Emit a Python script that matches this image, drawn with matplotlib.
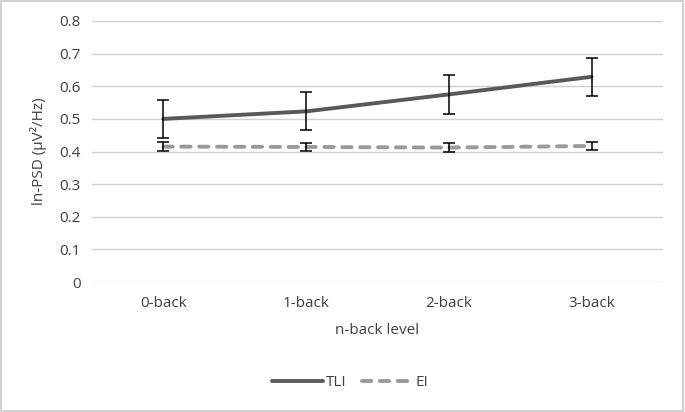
import matplotlib.pyplot as plt
from matplotlib.patches import Rectangle

plt.rcParams['font.family'] = ['Open Sans', 'DejaVu Sans']

# data
levels = ["0-back", "1-back", "2-back", "3-back"]
tli = [0.500, 0.523, 0.575, 0.629]
tli_err = [0.058, 0.058, 0.059, 0.058]
ei = [0.415, 0.414, 0.412, 0.417]
ei_err = [0.014, 0.012, 0.013, 0.013]

fig = plt.figure(figsize=(6.85, 4.12), dpi=100)
ax = fig.add_axes([92 / 685, 1 - 282 / 412, (663 - 92) / 685, (282 - 21) / 412])

x = list(range(len(levels)))

ax.plot(x, tli, color='#595959', lw=2.8, solid_capstyle='round', label='TLI', zorder=3)
ax.errorbar(x, tli, yerr=tli_err, fmt='none', ecolor='black', elinewidth=1.1,
            capsize=4, capthick=1.1, zorder=4)
ax.plot(x, ei, color='#9a9a9a', lw=2.8, ls=(0, (2.4, 2.2)), dash_capstyle='round',
        label='EI', zorder=3)
ax.errorbar(x, ei, yerr=ei_err, fmt='none', ecolor='black', elinewidth=1.1,
            capsize=4, capthick=1.1, zorder=4)

ax.set_xlim(-0.5, len(levels) - 0.5)
ax.set_ylim(0, 0.8)
ax.set_yticks([i / 10 for i in range(9)])
ax.set_yticklabels(['0'] + [f'{i / 10:.1f}' for i in range(1, 9)])
ax.set_xticks(x)
ax.set_xticklabels(levels)

ax.grid(axis='y', color='#d0d0d0', lw=1)
ax.set_axisbelow(True)
for s in ax.spines.values():
    s.set_visible(False)
ax.tick_params(length=0, labelsize=11, colors='#404040', pad=8)
ax.tick_params(axis='x', pad=10)

ax.set_xlabel('n-back level', fontsize=11, color='#404040', labelpad=9)
ax.set_ylabel('ln-PSD (µV²/Hz)', fontsize=11, color='#404040', labelpad=9)

fig.legend(loc='center', bbox_to_anchor=(350 / 685, 1 - 383 / 412), ncol=2,
           frameon=False, fontsize=11, handlelength=3.3, columnspacing=1.0,
           handletextpad=0.2, labelcolor='#404040')

fig.patches.append(Rectangle((0.002, 0.003), 0.995, 0.994, transform=fig.transFigure,
                             fill=False, edgecolor='#c8c8c8', lw=1.2))

fig.savefig('out.png', dpi=100, facecolor='white')
